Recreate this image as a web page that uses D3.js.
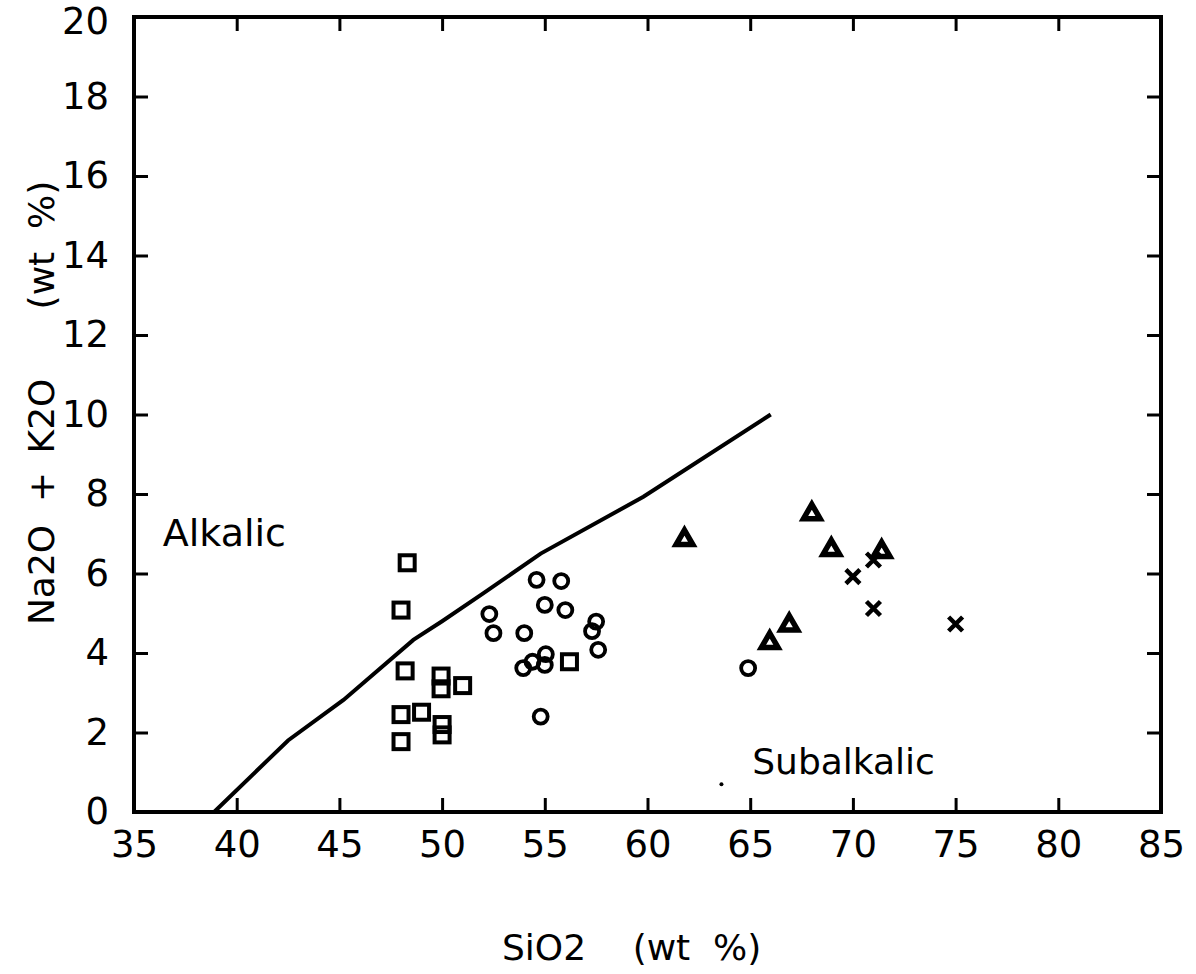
<!DOCTYPE html>
<html><head><meta charset="utf-8">
<script src="https://cdn.jsdelivr.net/npm/d3@7"></script>
<style>body{margin:0;background:#fff}svg{display:block}</style>
</head><body>
<svg id="c" width="1196" height="974"></svg>
<script>
// Data (SiO2 wt%, Na2O+K2O wt%)
const squares = [[48.3,6.27],[48.0,5.08],[48.2,3.55],[49.95,3.42],[49.95,3.1],[51.0,3.18],[48.0,2.45],[49.0,2.51],[50.0,2.2],[50.0,1.94],[48.0,1.77],[56.2,3.78]];
const circles = [[54.6,5.84],[55.8,5.81],[55.0,5.21],[56.0,5.08],[52.3,4.98],[52.5,4.5],[54.0,4.5],[57.5,4.79],[57.3,4.55],[57.6,4.08],[55.05,3.97],[54.4,3.78],[53.95,3.62],[55.0,3.7],[54.8,2.4],[64.9,3.62]];
const triangles = [[61.8,6.85],[68.0,7.5],[68.95,6.6],[71.4,6.55],[66.9,4.7],[65.95,4.26]];
const crosses = [[70.0,5.92],[71.0,6.34],[71.0,5.12],[75.0,4.73]];
const dots = [[63.6,0.7]];
const divider = [[38.9,0],[42.5,1.8],[45.2,2.82],[48.6,4.33],[50,4.8],[52,5.5],[54.8,6.5],[59.8,7.93],[66,10.0]];
const xTicks = [35,40,45,50,55,60,65,70,75,80,85];
const yTicks = [0,2,4,6,8,10,12,14,16,18,20];
const yTitleParts = [["Na2O",575],["+",487],["K2O",416],["(wt  %)",245]];
const xTitleParts = [["SiO2",544],["(wt  %)",697]];

const svg = d3.select("#c");
const L=134,R=1161,T=17,B=812;
const x = d3.scaleLinear().domain([35,85]).range([L,R]);
const y = d3.scaleLinear().domain([0,20]).range([B,T]);
const font = "'DejaVu Sans', Arial, sans-serif";
const fs = "37px";
const tl = 14;

// frame
svg.append("rect").attr("x",L).attr("y",T).attr("width",R-L).attr("height",B-T)
  .attr("fill","none").attr("stroke","#000").attr("stroke-width",4);

// axes with inward ticks
const gb = svg.append("g").attr("transform",`translate(0,${B})`)
  .call(d3.axisBottom(x).tickValues(xTicks).tickSize(-tl).tickPadding(19).tickFormat(d3.format("d")));
const gt = svg.append("g").attr("transform",`translate(0,${T})`)
  .call(d3.axisTop(x).tickValues(xTicks).tickSize(-tl).tickFormat(""));
const gl = svg.append("g").attr("transform",`translate(${L},0)`)
  .call(d3.axisLeft(y).tickValues(yTicks).tickSize(-tl).tickPadding(25).tickFormat(d3.format("d")));
const gr = svg.append("g").attr("transform",`translate(${R},0)`)
  .call(d3.axisRight(y).tickValues(yTicks).tickSize(-tl).tickFormat(""));
[gb,gt,gl,gr].forEach(g=>{
  g.select(".domain").remove();
  g.selectAll(".tick line").attr("stroke","#000").attr("stroke-width",3);
  g.selectAll("text").attr("fill","#000").style("font-family",font).style("font-size",fs);
});
gl.selectAll(".tick").filter(d=>d===20).select("text").attr("dy","0.45em");

// divider line
svg.append("path").datum(divider)
  .attr("d",d3.line().x(d=>x(d[0])).y(d=>y(d[1])))
  .attr("fill","none").attr("stroke","#000").attr("stroke-width",4);

// markers
svg.append("g").selectAll("rect").data(squares).join("rect")
  .attr("x",d=>x(d[0])-7.5).attr("y",d=>y(d[1])-7.5).attr("width",15).attr("height",15)
  .attr("fill","none").attr("stroke","#000").attr("stroke-width",4);
svg.append("g").selectAll("circle").data(circles).join("circle")
  .attr("cx",d=>x(d[0])).attr("cy",d=>y(d[1])).attr("r",7)
  .attr("fill","none").attr("stroke","#000").attr("stroke-width",3.8);
const tri = d3.symbol().type(d3.symbolTriangle).size(120);
svg.append("g").selectAll("path").data(triangles).join("path")
  .attr("transform",d=>`translate(${x(d[0])},${y(d[1])})`).attr("d",tri)
  .attr("fill","#fff").attr("stroke","#000").attr("stroke-width",5.5).attr("stroke-linejoin","miter");
svg.append("g").selectAll("path").data(crosses).join("path")
  .attr("transform",d=>`translate(${x(d[0])},${y(d[1])})`)
  .attr("d","M-7,-7L7,7M-7,7L7,-7")
  .attr("fill","none").attr("stroke","#000").attr("stroke-width",4.5);
svg.append("g").selectAll("circle").data(dots).join("circle")
  .attr("cx",d=>x(d[0])).attr("cy",d=>y(d[1])).attr("r",2).attr("fill","#000");

// region labels
svg.append("text").attr("x",x(36.4)).attr("y",y(6.7)).text("Alkalic")
  .style("font-family",font).style("font-size","38px");
svg.append("text").attr("x",x(65.1)).attr("y",y(0.95)).text("Subalkalic")
  .style("font-family",font).style("font-size","36px");

// axis titles
svg.append("g").selectAll("text").data(xTitleParts).join("text")
  .attr("x",d=>d[1]).attr("y",960).attr("text-anchor","middle")
  .style("font-family",font).style("font-size","36px").style("white-space","pre")
  .text(d=>d[0]);
svg.append("g").selectAll("text").data(yTitleParts).join("text")
  .attr("transform",d=>`translate(54,${d[1]}) rotate(-90)`).attr("text-anchor","middle")
  .style("font-family",font).style("font-size","36px").style("white-space","pre")
  .text(d=>d[0]);
</script>
</body></html>
